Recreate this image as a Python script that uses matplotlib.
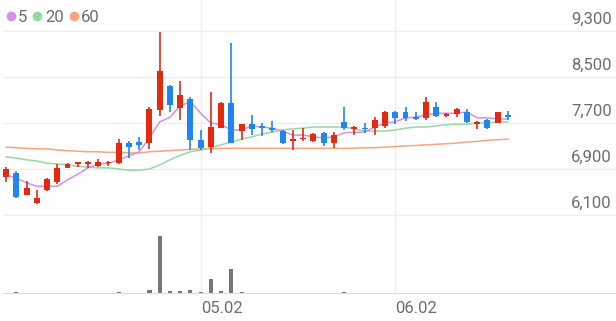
import matplotlib.pyplot as plt
import numpy as np
from matplotlib.lines import Line2D

plt.rcParams['font.family'] = ['Roboto', 'DejaVu Sans']

# ── data (KRW) ───────────────────────────────────────────────────────────────
OPEN = [6760, 6830, 6450, 6310, 6530, 6670, 6920, 6980, 6990, 6950,
        7000, 7000, 7360, 7370, 7350, 7930, 8340, 7960, 8120, 7400,
        7290, 7620, 8040, 7560, 7680, 7640, 7610, 7560, 7380, 7420,
        7390, 7530, 7350, 7710, 7600, 7620, 7620, 7650, 7900, 7890,
        7810, 7780, 7980, 7820, 7850, 7900, 7680, 7760, 7700, 7840]
HIGH = [6930, 6860, 6690, 6530, 6740, 6990, 7000, 7030, 7040, 7070,
        7040, 7420, 7390, 7460, 7980, 9280, 8360, 8430, 8160, 7580,
        8240, 8060, 9090, 7690, 7840, 7700, 7740, 7570, 7580, 7610,
        7520, 7540, 7550, 7980, 7640, 7700, 7800, 7910, 7910, 7980,
        7890, 8150, 8070, 7870, 7970, 7940, 7740, 7770, 7900, 7910]
LOW = [6670, 6390, 6440, 6290, 6510, 6640, 6910, 6940, 6910, 6940,
       6960, 6990, 7090, 7230, 7250, 7830, 7890, 7750, 7230, 7230,
       7170, 7610, 7350, 7400, 7490, 7480, 7540, 7340, 7230, 7380,
       7370, 7300, 7260, 7580, 7490, 7520, 7490, 7610, 7680, 7740,
       7750, 7750, 7810, 7800, 7810, 7700, 7590, 7590, 7700, 7750]
CLOSE = [6900, 6410, 6570, 6400, 6730, 6920, 6990, 7020, 7020, 7030,
         7030, 7360, 7280, 7320, 7940, 8610, 8010, 8190, 7400, 7260,
         7630, 8050, 7360, 7680, 7600, 7610, 7580, 7360, 7430, 7440,
         7510, 7350, 7490, 7610, 7630, 7590, 7760, 7900, 7780, 7780,
         7770, 8070, 7830, 7860, 7940, 7720, 7710, 7610, 7890, 7810]
VOLUME = [40, 60, 30, 40, 30, 40, 30, 30, 30, 30,
          30, 100, 40, 50, 300, 5700, 200, 220, 300, 150,
          1400, 200, 2400, 60, 50, 50, 40, 50, 40, 40,
          30, 40, 30, 110, 30, 30, 40, 50, 40, 40,
          30, 40, 40, 30, 30, 30, 30, 30, 30, 20]  # thousand shares

MA5 = [6800, 6740, 6660, 6600, 6600, 6600, 6710, 6810, 6920, 6990,
       7000, 7060, 7130, 7200, 7440, 7720, 7800, 8000, 8070, 7870,
       7700, 7670, 7580, 7580, 7650, 7630, 7610, 7560, 7490, 7490,
       7460, 7440, 7460, 7530, 7540, 7540, 7630, 7700, 7720, 7790,
       7800, 7840, 7870, 7870, 7870, 7890, 7790, 7790, 7770, 7770]
MA20 = [7110, 7090, 7060, 7040, 7000, 6990, 6970, 6950, 6930, 6920,
        6920, 6900, 6880, 6880, 6900, 6970, 7060, 7140, 7200, 7230,
        7270, 7320, 7370, 7420, 7460, 7510, 7540, 7580, 7600, 7610,
        7630, 7630, 7630, 7630, 7600, 7560, 7560, 7560, 7580, 7610,
        7630, 7630, 7650, 7670, 7680, 7680, 7700, 7700, 7720, 7720]
MA60 = [7280, 7270, 7260, 7250, 7250, 7230, 7220, 7210, 7200, 7200,
        7190, 7190, 7180, 7180, 7200, 7210, 7220, 7230, 7240, 7250,
        7250, 7260, 7260, 7260, 7260, 7260, 7260, 7260, 7260, 7260,
        7260, 7260, 7260, 7260, 7260, 7270, 7270, 7280, 7290, 7300,
        7310, 7320, 7330, 7340, 7350, 7370, 7380, 7400, 7410, 7420]

X_TICK_POS = [19, 38]
X_TICK_LABELS = ["05.02", "06.02"]
Y_TICKS = [6100, 6900, 7700, 8500, 9300]

UP, DOWN = "#e5290f", "#1f86f0"
MA_COLORS = {"5": "#d391ea", "20": "#92dba4", "60": "#f8a47f"}
GRID = "#eeeeee"
TEXT = "#6e6e6e"

# ── figure ───────────────────────────────────────────────────────────────────
W, H = 616, 321
fig = plt.figure(figsize=(W / 100, H / 100), dpi=100)
ax = fig.add_axes([3 / W, 1 - 215 / H, 613 / W, 215 / H])
axv = fig.add_axes([3 / W, 1 - 293 / H, 613 / W, 78 / H], sharex=ax)

x = np.arange(len(OPEN))
o, h, l, c = map(np.array, (OPEN, HIGH, LOW, CLOSE))
col = np.where(c >= o, UP, DOWN)

# moving averages under the candles
ax.plot(x, MA60, color=MA_COLORS["60"], lw=1.1, zorder=2)
ax.plot(x, MA20, color=MA_COLORS["20"], lw=1.1, zorder=2)
ax.plot(x, MA5, color=MA_COLORS["5"], lw=1.1, zorder=2)

# candles
ax.vlines(x, l, h, colors=col, lw=1.2, zorder=3)
body = np.maximum(np.abs(c - o), 12)
ax.bar(x, body, bottom=np.minimum(o, c), width=0.58, color=col, zorder=4)

ax.set_xlim(-0.3, 59.55)
ax.set_ylim(6100, 9840)
ax.set_yticks(Y_TICKS)
ax.set_xticks(X_TICK_POS)
ax.grid(True, color=GRID, lw=1, zorder=0)
ax.tick_params(left=False, bottom=False, labelleft=False, labelbottom=False)
for s in ax.spines.values():
    s.set_visible(False)

for v in Y_TICKS:
    ax.annotate(f"{v:,}", xy=(1, v), xycoords=ax.get_yaxis_transform(),
                xytext=(-3, 2.8), textcoords="offset points",
                ha="right", va="bottom", fontsize=12, color=TEXT)

# legend
handles = [Line2D([], [], ls="", marker="o", ms=7, mec="none", color=cc, label=k)
           for k, cc in MA_COLORS.items()]
fig.legend(handles=handles, loc="upper left", bbox_to_anchor=(-0.0125, 1.011),
           ncol=3, frameon=False, fontsize=12, handlelength=0.6,
           handletextpad=0.15, columnspacing=0.3, borderpad=0.3,
           labelcolor=TEXT)

# volume
axv.bar(x, VOLUME, width=0.4, color="#777777", zorder=3)
axv.set_ylim(0, 7800)
axv.set_yticks([])
axv.grid(True, axis="x", color=GRID, lw=1, zorder=0)
axv.set_xticks(X_TICK_POS, X_TICK_LABELS)
axv.tick_params(axis="x", length=0, pad=6, labelsize=12, labelcolor=TEXT)
for lab in axv.get_xticklabels():
    lab.set_ha("left")
for s in axv.spines.values():
    s.set_visible(False)
axv.spines["bottom"].set_visible(True)
axv.spines["bottom"].set_color("#dddddd")
axv.axhline(7800, color=GRID, lw=1)

fig.savefig("out.png", dpi=100)
